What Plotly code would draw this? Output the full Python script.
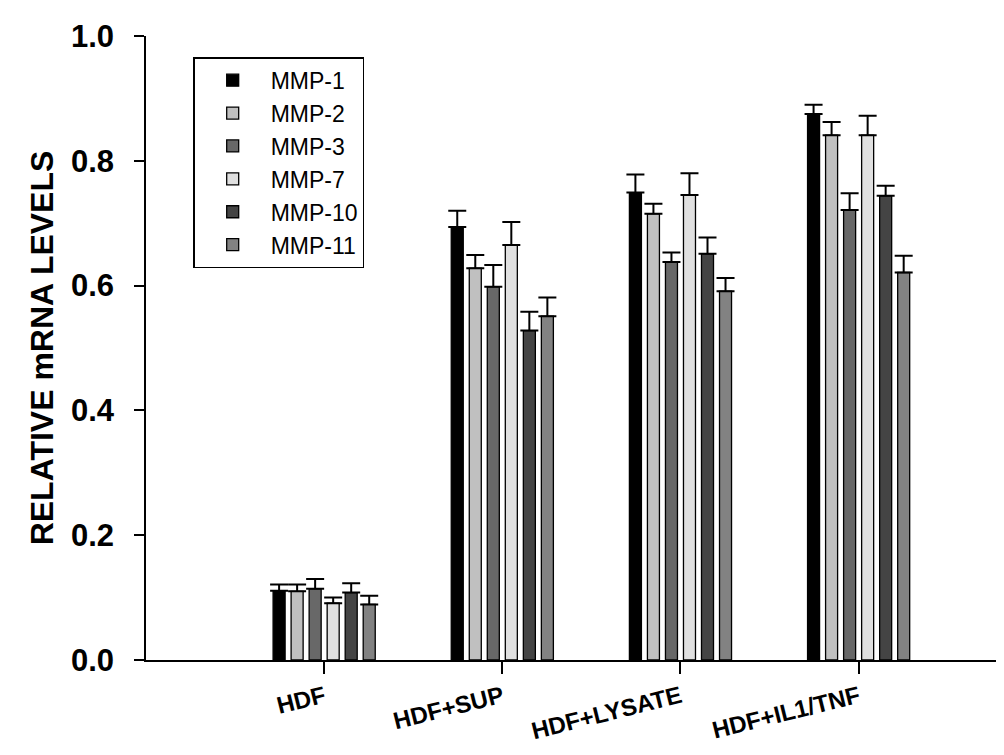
import plotly.graph_objects as go

categories = ["HDF", "HDF+SUP", "HDF+LYSATE", "HDF+IL1/TNF"]
series_names = ["MMP-1", "MMP-2", "MMP-3", "MMP-7", "MMP-10", "MMP-11"]

mmp1 = [0.111, 0.694, 0.749, 0.875]
mmp2 = [0.110, 0.628, 0.715, 0.841]
mmp3 = [0.114, 0.598, 0.638, 0.721]
mmp7 = [0.091, 0.665, 0.745, 0.841]
mmp10 = [0.108, 0.528, 0.651, 0.744]
mmp11 = [0.089, 0.551, 0.591, 0.621]

err1 = [0.010, 0.026, 0.029, 0.015]
err2 = [0.011, 0.021, 0.016, 0.021]
err3 = [0.016, 0.035, 0.015, 0.027]
err7 = [0.009, 0.037, 0.035, 0.031]
err10 = [0.015, 0.030, 0.026, 0.016]
err11 = [0.014, 0.030, 0.021, 0.027]

values = [mmp1, mmp2, mmp3, mmp7, mmp10, mmp11]
errors = [err1, err2, err3, err7, err10, err11]
colors = ["#000000", "#c0c0c0", "#686868", "#e0e0e0", "#444444", "#828282"]

font_family = "Arial, Liberation Sans, sans-serif"

fig = go.Figure()
for name, vals, errs, col in zip(series_names, values, errors, colors):
    fig.add_trace(go.Bar(
        x=categories, y=vals, name=name,
        marker=dict(color=col, line=dict(color="#000000", width=1.3)),
        error_y=dict(type="data", symmetric=False, array=errs,
                     arrayminus=[0] * len(errs),
                     color="#000000", thickness=2, width=9),
    ))

fig.update_layout(
    width=996, height=747,
    barmode="group", bargap=0.393, bargroupgap=0.333,
    paper_bgcolor="white", plot_bgcolor="white",
    margin=dict(l=138, r=0, t=28, b=95),
    font=dict(family=font_family, color="#000000"),
    legend=dict(
        x=0.055, y=0.966, xanchor="left", yanchor="top",
        bordercolor="#000000", borderwidth=1.5, bgcolor="white",
        font=dict(size=23, family=font_family),
        itemwidth=66,
    ),
    xaxis=dict(
        type="category", range=[-1, 3.816],
        showline=True, linecolor="#000000", linewidth=1.5,
        ticks="outside", ticklen=12, tickwidth=1.5, tickcolor="#000000",
        tickangle=-14, showgrid=False, zeroline=False,
        tickfont=dict(size=24, family=font_family, weight="bold"),
    ),
    yaxis=dict(
        range=[0, 1.0], tickvals=[0, 0.2, 0.4, 0.6, 0.8, 1.0],
        tickformat=".1f",
        showline=True, linecolor="#000000", linewidth=1.5,
        ticks="outside", ticklen=10, tickwidth=1.5, tickcolor="#000000",
        showgrid=False, zeroline=False, ticklabelstandoff=14,
        tickfont=dict(size=31, family=font_family, weight="bold"),
        title=dict(text="RELATIVE mRNA LEVELS", standoff=8,
                   font=dict(size=32, family=font_family, weight="bold")),
    ),
)

fig.write_html("out.html")
